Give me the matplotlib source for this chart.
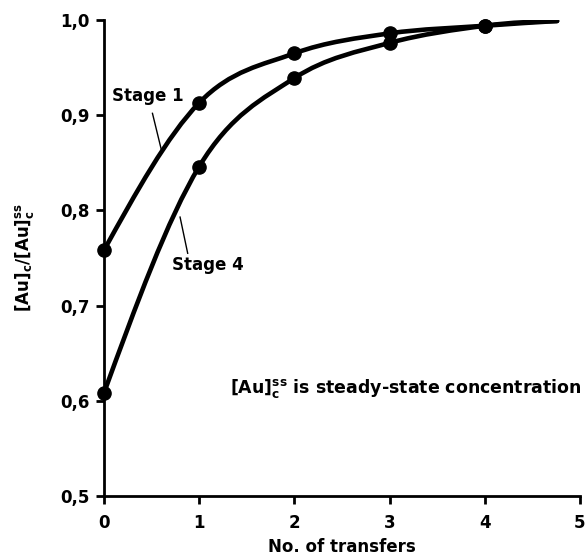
import numpy as np
import matplotlib
matplotlib.use("Agg")
import matplotlib.pyplot as plt
from matplotlib.path import Path
from matplotlib.patches import PathPatch

plt.rcParams['font.family'] = ['DejaVu Sans']
plt.rcParams['font.weight'] = 'bold'
plt.rcParams['mathtext.fontset'] = 'custom'
plt.rcParams['mathtext.rm'] = 'DejaVu Sans:bold'
plt.rcParams['mathtext.bf'] = 'DejaVu Sans:bold'
plt.rcParams['mathtext.it'] = 'DejaVu Sans:bold'

# data
transfers = [0, 1, 2, 3, 4]
stage1 = [0.758, 0.913, 0.965, 0.986, 0.994]
stage4 = [0.608, 0.846, 0.939, 0.976, 0.994]
curve_end_x = 4.76
curve_end_y = 0.999
xticks = [0, 1, 2, 3, 4, 5]
yticks = [0.5, 0.6, 0.7, 0.8, 0.9, 1.0]
yticklabels = ['0,5', '0,6', '0,7', '0,8', '0,9', '1,0']


def smooth_path(xs, ys):
    pts = np.column_stack([xs, ys]).astype(float)
    n = len(pts)
    tang = np.zeros_like(pts)
    for i in range(1, n - 1):
        tang[i] = (pts[i + 1] - pts[i - 1]) / 2.0
    chord0 = pts[1] - pts[0]
    tang[0] = chord0 + 0.5 * (chord0 - tang[1])
    chord1 = pts[-1] - pts[-2]
    tang[-1] = chord1 + 0.5 * (chord1 - tang[-2])
    verts = [pts[0]]
    codes = [Path.MOVETO]
    for i in range(n - 1):
        c1 = pts[i] + tang[i] / 3.0
        c2 = pts[i + 1] - tang[i + 1] / 3.0
        verts += [c1, c2, pts[i + 1]]
        codes += [Path.CURVE4] * 3
    return Path(verts, codes)


fig = plt.figure(figsize=(5.87, 5.57), dpi=100)
ax = fig.add_axes([0.177, 0.1095, 0.811, 0.8545])

for ys in (stage1, stage4):
    path = smooth_path(list(transfers) + [curve_end_x], list(ys) + [curve_end_y])
    ax.add_patch(PathPatch(path, facecolor='none', edgecolor='black', lw=3.3,
                           capstyle='round', zorder=3))
    ax.plot(transfers, ys, 'o', color='black', ms=9.5, zorder=4, clip_on=False)

ax.set_xlim(0, 5)
ax.set_ylim(0.5, 1.0)
ax.set_xticks(xticks)
ax.set_xticklabels([str(x) for x in xticks])
ax.set_yticks(yticks)
ax.set_yticklabels(yticklabels)
for s in ('top', 'right'):
    ax.spines[s].set_visible(False)
for s in ('left', 'bottom'):
    ax.spines[s].set_linewidth(2)
ax.tick_params(direction='out', length=6, width=2, labelsize=12)
ax.tick_params(axis='x', pad=7)
ax.tick_params(axis='y', pad=4)
for lab in ax.get_xticklabels() + ax.get_yticklabels():
    lab.set_fontweight('bold')

ax.set_xlabel('No. of transfers', fontsize=12, fontweight='bold', labelpad=4)
ax.set_ylabel(r'[Au]$_\mathrm{c}$/[Au]$_\mathrm{c}^\mathrm{ss}$', fontsize=12,
              fontweight='bold', labelpad=18)

ax.text(0.09, 0.92, 'Stage 1', fontsize=12, fontweight='bold', ha='left', va='center')
ax.plot([0.51, 0.61], [0.902, 0.861], color='black', lw=1.0)
ax.text(0.72, 0.743, 'Stage 4', fontsize=12, fontweight='bold', ha='left', va='center')
ax.plot([0.80, 0.88], [0.793, 0.755], color='black', lw=1.0)

ax.text(1.32, 0.613, r'[Au]$_\mathrm{c}^\mathrm{ss}$ is steady-state concentration',
        fontsize=12.5, fontweight='bold', ha='left', va='center')

fig.savefig('out.png', dpi=100)
